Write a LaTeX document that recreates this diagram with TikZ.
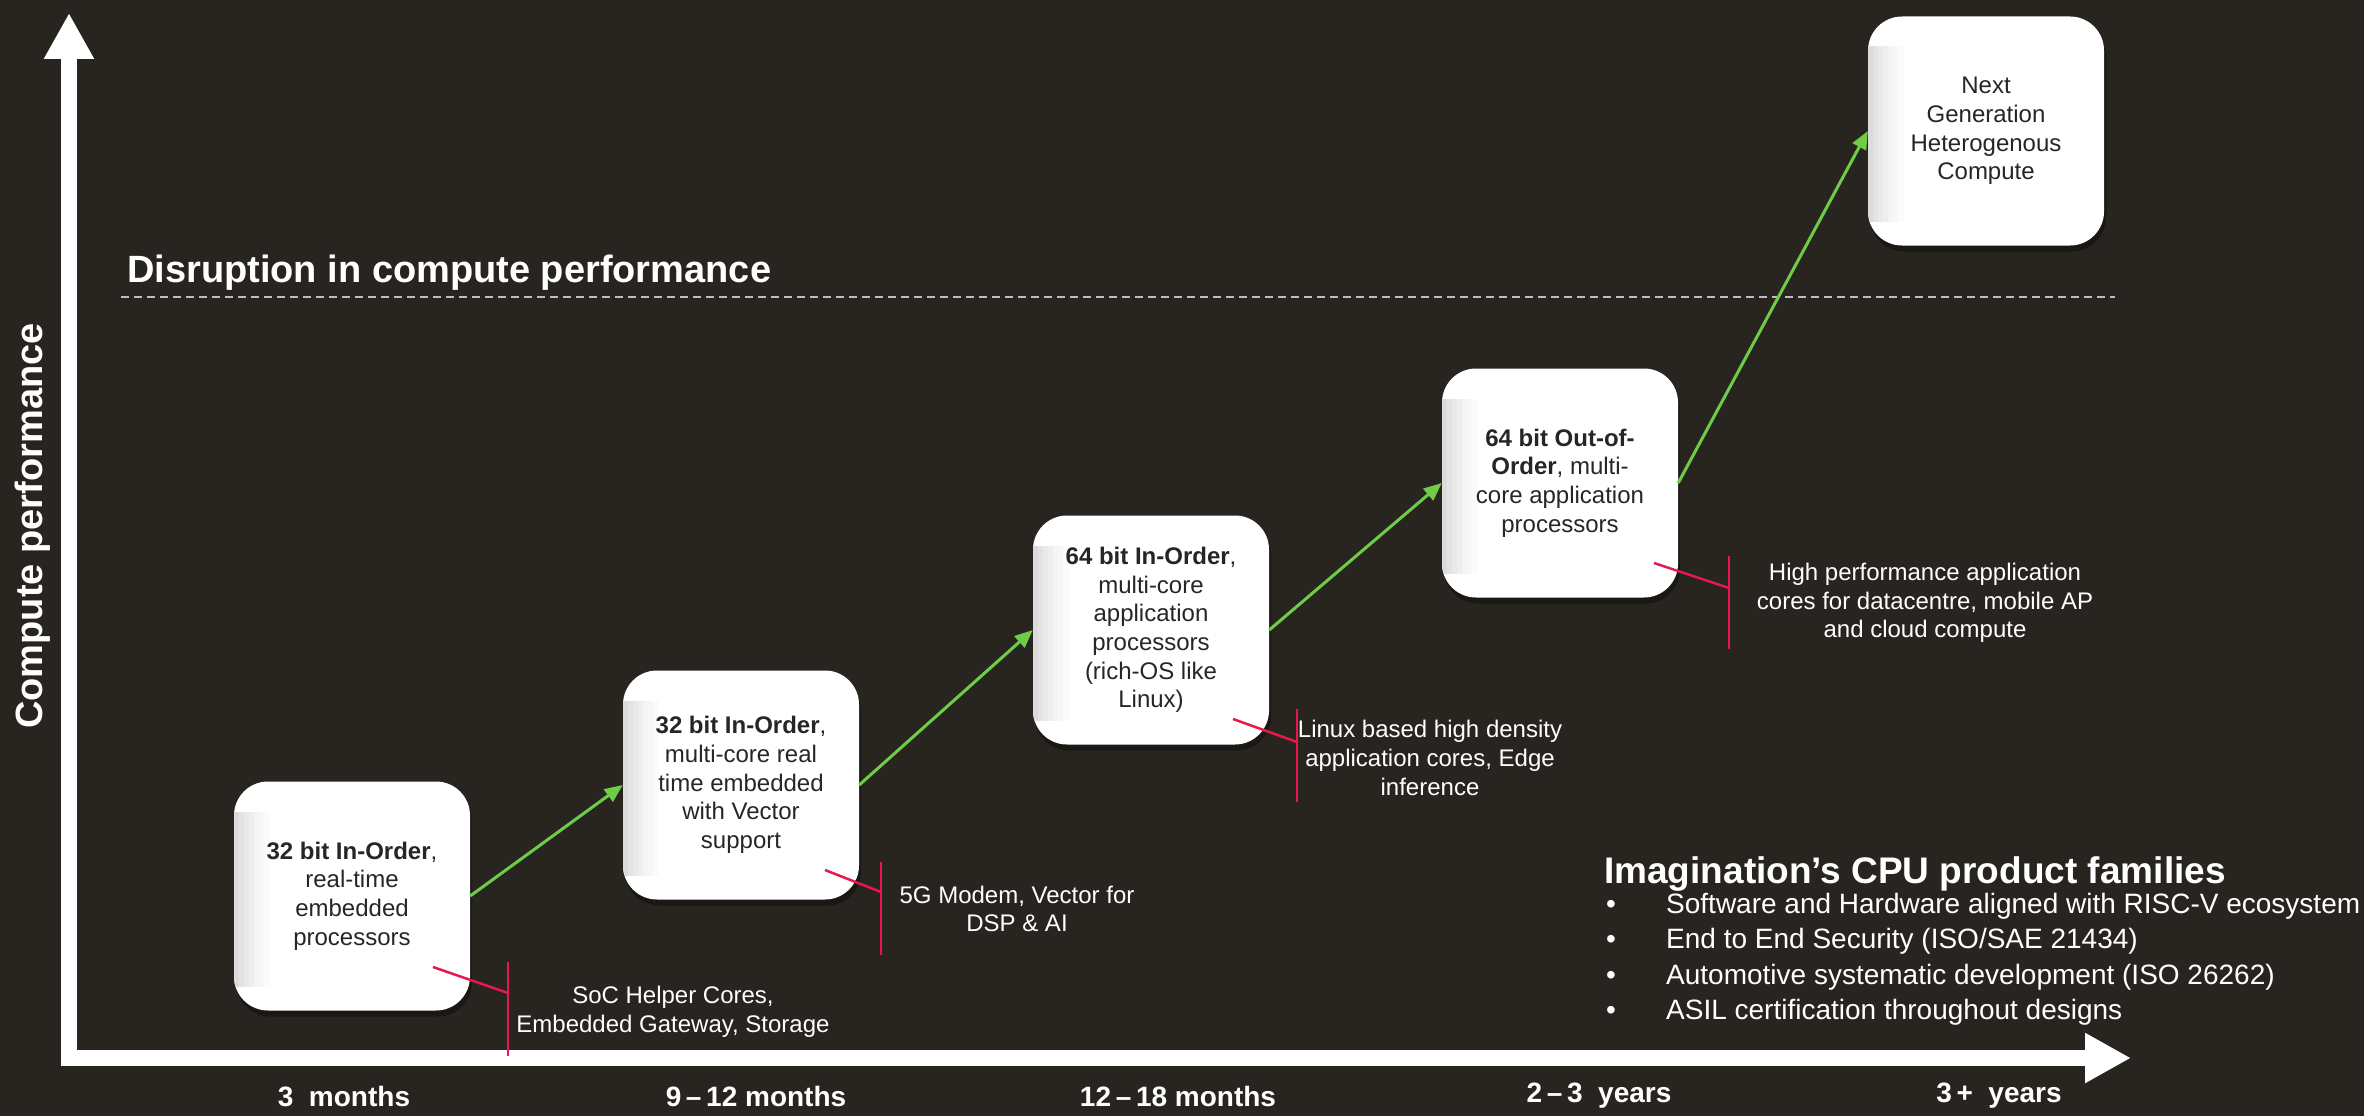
\documentclass[tikz,border=0pt]{standalone}
\usepackage{fontspec}
\setmainfont{Liberation Sans}
\usetikzlibrary{arrows.meta,shadows}
\definecolor{bg}{RGB}{40,37,32}
\definecolor{grn}{RGB}{110,204,70}
\definecolor{crim}{RGB}{232,24,76}
\definecolor{boxtxt}{RGB}{38,38,38}
\definecolor{dashc}{RGB}{190,190,190}
\begin{document}
\begin{tikzpicture}[x=1pt,y=-1pt,
  cpubox/.style={rounded corners=34pt, minimum width=236pt, minimum height=229pt,
    fill=white, text=boxtxt, align=center, inner sep=0pt,
    font=\fontsize{24}{28.7}\selectfont,
    drop shadow={shadow xshift=2pt, shadow yshift=-6pt, opacity=0.35, fill=black},
    path picture={\foreach \a/\b/\c in {0/5/14,5/10/11,10/15/8.5,15/20/6.5,20/25/4.5,25/30/3,30/36/1.5}{
      \fill[sharp corners, black!\c]
      ([xshift=\a pt, yshift=-30pt]path picture bounding box.north west) rectangle
      ([xshift=\b pt, yshift=24pt]path picture bounding box.south west);}}},
  grnarrow/.style={draw=grn, line width=3pt, -{Triangle[length=18pt,width=15pt]}},
  callout/.style={draw=crim, line width=2.5pt},
  caltext/.style={text=white, align=center, font=\fontsize{24}{28.7}\selectfont},
  axisarrow/.style={draw=white, line width=16pt, -{Triangle[length=46pt,width=47pt]}},
  ticklab/.style={text=white, font=\bfseries\fontsize{28}{32}\selectfont},
  bigtitle/.style={text=white, inner sep=0pt, font=\bfseries\fontsize{38}{44}\selectfont},
  bullettext/.style={text=white, anchor=base west, inner sep=0pt, font=\fontsize{28}{32}\selectfont}
]
\useasboundingbox (0,0) rectangle (2364,1116);
\fill[bg] (0,0) rectangle (2364,1116);

% axes
\coordinate (yo) at (69,1066);
\coordinate (ytip) at (69,13);
\coordinate (xo) at (61,1058);
\coordinate (xtip) at (2131,1058);
\draw[axisarrow] (yo) -- (ytip);
\draw[axisarrow] (xo) -- (xtip);

% axis label
\node[bigtitle, rotate=90] (ylab) at (33,526) {Compute performance};

% disruption line
\node[bigtitle, anchor=base west] (disr) at (127,282) {Disruption in compute performance};
\coordinate (d1) at (121,297);
\coordinate (d2) at (2115,297);
\draw[dashc, line width=2pt, dash pattern=on 8pt off 5pt] (d1) -- (d2);

% boxes
\node[cpubox] (b1) at (352,896) {\textbf{32 bit In-Order},\\real-time\\embedded\\processors};
\node[cpubox] (b2) at (741,785) {\textbf{32 bit In-Order},\\multi-core real\\time embedded\\with Vector\\support};
\node[cpubox] (b3) at (1151,630) {\textbf{64 bit In-Order},\\multi-core\\application\\processors\\(rich-OS like\\Linux)};
\node[cpubox] (b4) at (1560,483) {\textbf{64 bit Out-of-}\\\textbf{Order}, multi-\\core application\\processors};
\node[cpubox] (b5) at (1986,131) {Next\\Generation\\Heterogenous\\Compute};

% green arrows
\draw[grnarrow] (b1.east) -- (b2.west);
\draw[grnarrow] (b2.east) -- (b3.west);
\draw[grnarrow] (b3.east) -- (b4.west);
\draw[grnarrow] (b4.east) -- (b5.west);

% callouts
\coordinate (k1a) at (433,967);  \coordinate (k1b) at (508,993);
\coordinate (k1t) at (508,962);  \coordinate (k1u) at (508,1056);
\draw[callout] (k1a) -- (k1b); \draw[callout] (k1t) -- (k1u);
\node[caltext] (t1) at (673,1012) {SoC Helper Cores,\\Embedded Gateway, Storage};

\coordinate (k2a) at (825,870);  \coordinate (k2b) at (881,892);
\coordinate (k2t) at (881,862);  \coordinate (k2u) at (881,955);
\draw[callout] (k2a) -- (k2b); \draw[callout] (k2t) -- (k2u);
\node[caltext] (t2) at (1017,909) {5G Modem, Vector for\\DSP \& AI};

\coordinate (k3a) at (1233,719); \coordinate (k3b) at (1297,742);
\coordinate (k3t) at (1297,709); \coordinate (k3u) at (1297,802);
\draw[callout] (k3a) -- (k3b); \draw[callout] (k3t) -- (k3u);
\node[caltext] (t3) at (1430,758) {Linux based high density\\application cores, Edge\\inference};

\coordinate (k4a) at (1654,563); \coordinate (k4b) at (1729,588);
\coordinate (k4t) at (1729,556); \coordinate (k4u) at (1729,649);
\draw[callout] (k4a) -- (k4b); \draw[callout] (k4t) -- (k4u);
\node[caltext] (t4) at (1925,603) {High performance application\\cores for datacentre, mobile AP\\and cloud compute};

% time labels
\node[ticklab] (l1) at (344,1096) {3\ \ months};
\node[ticklab] (l2) at (756,1096) {9\,–\,12 months};
\node[ticklab] (l3) at (1178,1096) {12\,–\,18 months};
\node[ticklab] (l4) at (1599,1096) {2\,–\,3\ \ years};
\node[ticklab] (l5) at (1999,1096) {3\,+\ \ years};

% product families
\node[text=white, anchor=base west, inner sep=0pt, font=\bfseries\fontsize{37}{42}\selectfont] (fam) at (1604,883) {Imagination’s CPU product families};
\node[bullettext] (p1) at (1606,913) {•};
\node[bullettext] (q1) at (1666,913) {Software and Hardware aligned with RISC-V ecosystem};
\node[bullettext] (p2) at (1606,948) {•};
\node[bullettext] (q2) at (1666,948) {End to End Security (ISO/SAE 21434)};
\node[bullettext] (p3) at (1606,984) {•};
\node[bullettext] (q3) at (1666,984) {Automotive systematic development (ISO 26262)};
\node[bullettext] (p4) at (1606,1019) {•};
\node[bullettext] (q4) at (1666,1019) {ASIL certification throughout designs};
\end{tikzpicture}
\end{document}
